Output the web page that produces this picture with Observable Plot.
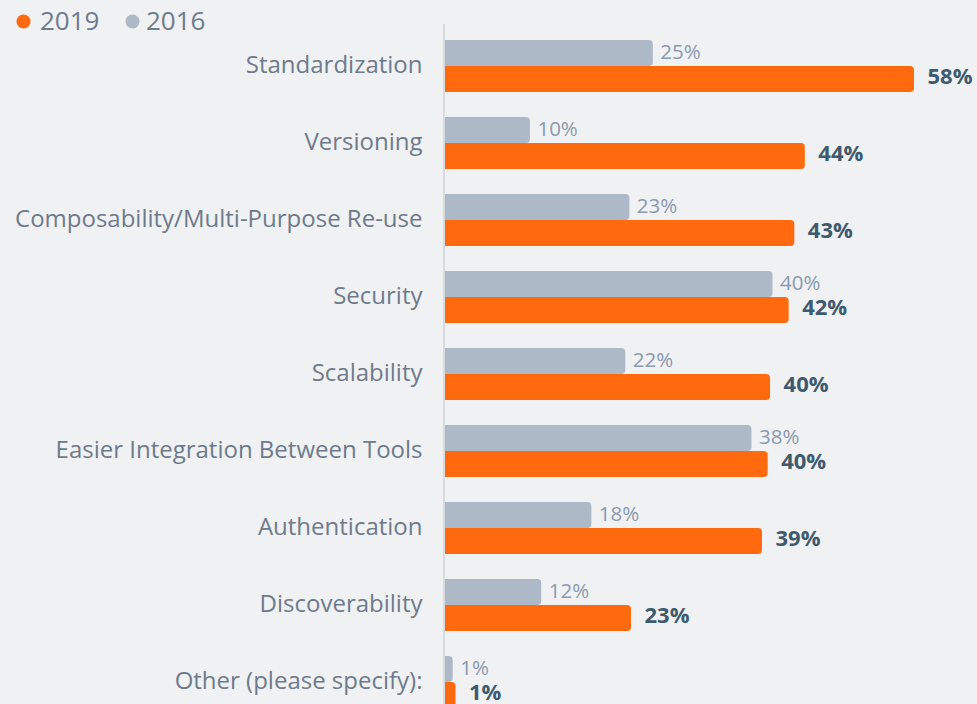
<!DOCTYPE html>
<html>
<head>
<meta charset="utf-8">
<script src="https://cdn.jsdelivr.net/npm/d3@7"></script>
<script src="https://cdn.jsdelivr.net/npm/@observablehq/plot@0.6"></script>
<style>
  html, body { margin: 0; padding: 0; background: #f0f1f3; width: 977px; height: 704px; overflow: hidden; }
  #legend { display: block; }
  #chart svg { display: block; }
</style>
</head>
<body>
<svg id="legend" width="977" height="24" style="overflow:visible;position:relative;z-index:2">
  <circle cx="23.5" cy="21.5" r="7" fill="#ff6a0e"></circle>
  <text x="40" y="30" font-family="'Open Sans', sans-serif" font-size="26" fill="#6d7b8c">2019</text>
  <circle cx="132.5" cy="21.5" r="7" fill="#adb9c7"></circle>
  <text x="146" y="30" font-family="'Open Sans', sans-serif" font-size="26" fill="#6d7b8c">2016</text>
</svg>
<div id="chart"></div>
<script>
const categories = [
  "Standardization",
  "Versioning",
  "Composability/Multi-Purpose Re-use",
  "Security",
  "Scalability",
  "Easier Integration Between Tools",
  "Authentication",
  "Discoverability",
  "Other (please specify):"
];
const values2016 = [25.7, 10.5, 22.8, 40.5, 22.3, 37.9, 18.1, 11.9, 0.95];
const values2019 = [58.0, 44.5, 43.2, 42.5, 40.2, 39.9, 39.2, 23.0, 1.3];
const labels2016 = ["25%", "10%", "23%", "40%", "22%", "38%", "18%", "12%", "1%"];
const labels2019 = ["58%", "44%", "43%", "42%", "40%", "40%", "39%", "23%", "1%"];

const data = categories.map((c, i) => ({
  cat: c, v16: values2016[i], v19: values2019[i], l16: labels2016[i], l19: labels2019[i]
}));

const chart = Plot.plot({
  width: 977,
  height: 680,
  marginLeft: 445,
  marginRight: 63,
  marginTop: 0,
  marginBottom: 0,
  style: { background: "transparent", fontFamily: "'Open Sans', sans-serif", overflow: "hidden" },
  x: { domain: [0, 58], axis: null },
  y: { domain: categories, range: [3.5, 696.5], paddingInner: 25 / 77, paddingOuter: 12.5 / 77, axis: null },
  marks: [
    Plot.ruleX([0], { stroke: "#d9dcdf", strokeWidth: 2, dx: -1.5 }),
    Plot.barX(data, { x: "v16", y: "cat", fill: "#adb9c7", insetBottom: 26, rx2: 4 }),
    Plot.barX(data, { x: "v19", y: "cat", fill: "#ff6a0e", insetTop: 26, rx2: 4 }),
    Plot.text(data, {
      y: "cat", text: "cat", frameAnchor: "left", textAnchor: "end", dx: -23, dy: -1,
      fontSize: 24, fill: "#6d7b8c"
    }),
    Plot.text(data, {
      x: "v16", y: "cat", text: "l16", textAnchor: "start", dx: 7, dy: -14.5,
      fontSize: 20.5, fill: "#8a9ab0"
    }),
    Plot.text(data, {
      x: "v19", y: "cat", text: "l19", textAnchor: "start", dx: 13, dy: 10,
      fontSize: 22, fontWeight: "bold", fill: "#3d5a6e"
    })
  ]
});
document.getElementById("chart").appendChild(chart);
</script>
</body>
</html>
